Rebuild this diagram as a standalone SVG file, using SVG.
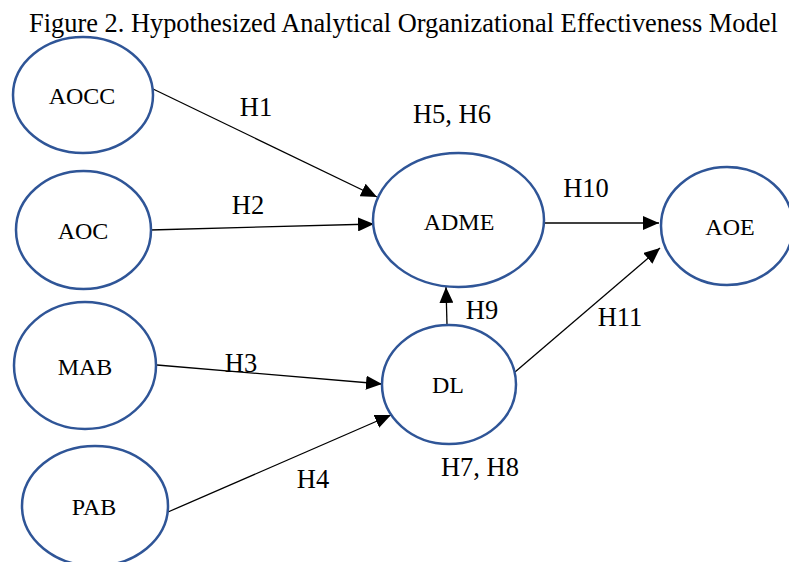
<svg xmlns="http://www.w3.org/2000/svg" width="789" height="562" viewBox="0 0 789 562" font-family="Liberation Serif, serif">
<style>
.t{font-family:"Liberation Serif",serif;fill:#000}
.node ellipse{fill:#fff;stroke:#2F5597;stroke-width:2.5}
.nt{font-family:"Liberation Serif",serif;font-size:24px;text-anchor:middle;fill:#000}
.lbl{font-family:"Liberation Serif",serif;font-size:26.5px;text-anchor:middle;fill:#000}
.edge{stroke:#000;stroke-width:1.3;fill:none;marker-end:url(#arr)}
</style>
<defs>
<marker id="arr" markerUnits="userSpaceOnUse" markerWidth="16" markerHeight="14" viewBox="0 0 16 14" refX="16" refY="7" orient="auto">
<path d="M0,0 L16,7 L0,14 Z" fill="#000"/>
</marker>
</defs>
<rect width="789" height="562" fill="#fff"/>
<text class="t" x="29" y="32" font-size="26.4">Figure 2. Hypothesized Analytical Organizational Effectiveness Model</text>
<g id="connectors">
<line class="edge" x1="151" y1="88" x2="377" y2="197"/>
<line class="edge" x1="150" y1="230" x2="374" y2="224"/>
<line class="edge" x1="157" y1="365" x2="382" y2="384"/>
<line class="edge" x1="168" y1="512" x2="391" y2="415"/>
<line class="edge" x1="447" y1="325" x2="446" y2="287"/>
<line class="edge" x1="543" y1="223" x2="659" y2="223"/>
<line class="edge" x1="515" y1="372" x2="660" y2="248"/>
</g>
<g id="labels" font-family="Liberation Serif, serif" font-size="26.5" text-anchor="middle">
<text class="lbl" x="256" y="116">H1</text>
<text class="lbl" x="248" y="214">H2</text>
<text class="lbl" x="241" y="372">H3</text>
<text class="lbl" x="313" y="488">H4</text>
<text class="lbl" x="452" y="123">H5, H6</text>
<text class="lbl" x="480" y="476">H7, H8</text>
<text class="lbl" x="482" y="319">H9</text>
<text class="lbl" x="586" y="197">H10</text>
<text class="lbl" x="620" y="326">H11</text>
</g>
<g id="AOCC" class="node"><ellipse cx="83" cy="95" rx="70" ry="58"/><text class="nt" x="82" y="104">AOCC</text></g>
<g id="AOC" class="node"><ellipse cx="83.5" cy="230" rx="67.5" ry="59"/><text class="nt" x="83" y="239">AOC</text></g>
<g id="MAB" class="node"><ellipse cx="85" cy="365.5" rx="71" ry="63.5"/><text class="nt" x="85" y="375">MAB</text></g>
<g id="PAB" class="node"><ellipse cx="95" cy="506" rx="73" ry="60"/><text class="nt" x="94" y="515">PAB</text></g>
<g id="ADME" class="node"><ellipse cx="458.5" cy="220" rx="85.5" ry="67"/><text class="nt" x="459" y="230">ADME</text></g>
<g id="DL" class="node"><ellipse cx="449" cy="384.5" rx="67" ry="59.5"/><text class="nt" x="448" y="393">DL</text></g>
<g id="AOE" class="node"><ellipse cx="727" cy="226" rx="66" ry="59"/><text class="nt" x="730" y="235">AOE</text></g>
</svg>
